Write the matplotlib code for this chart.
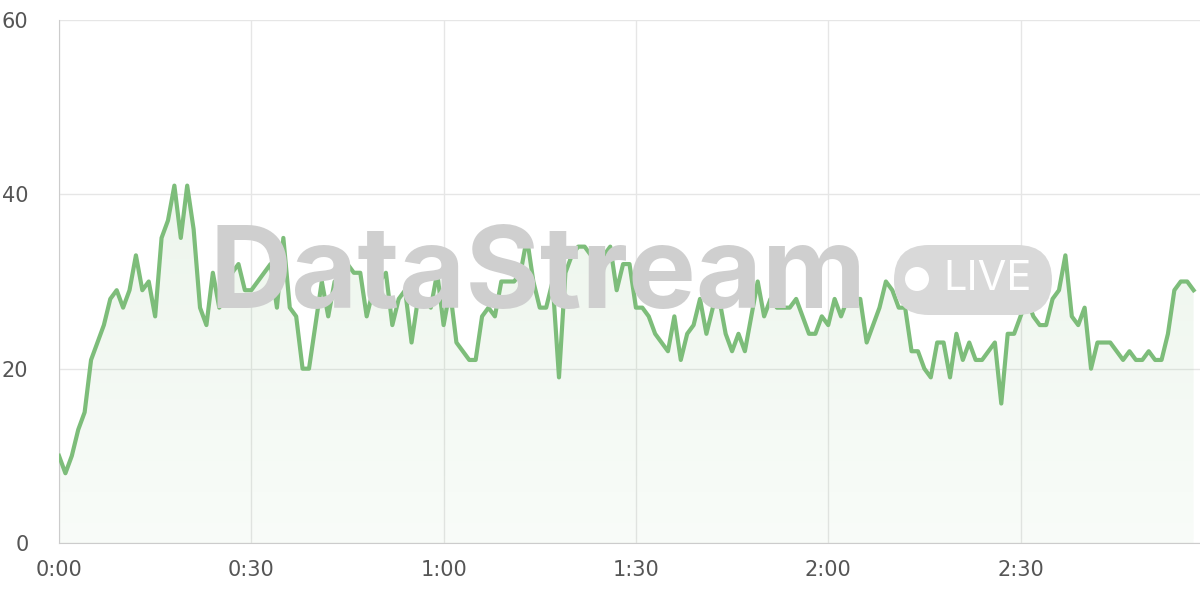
import numpy as np
import matplotlib.pyplot as plt
from matplotlib.patches import FancyBboxPatch, Circle
from matplotlib.ticker import FixedLocator

values = [10, 8, 10, 13, 15, 21, 23, 25, 28, 29, 27, 29, 33, 29, 30, 26, 35, 37, 41, 35,
          41, 36, 27, 25, 31, 27, 28, 31, 32, 29, 29, 30, 31, 32, 27, 35, 27, 26, 20, 20,
          25, 30, 26, 30, 29, 32, 31, 31, 26, 29, 30, 31, 25, 28, 29, 23, 28, 28, 27, 31,
          25, 29, 23, 22, 21, 21, 26, 27, 26, 30, 30, 30, 31, 35, 30, 27, 27, 30, 19, 31,
          33, 34, 34, 33, 32, 33, 34, 29, 32, 32, 27, 27, 26, 24, 23, 22, 26, 21, 24, 25,
          28, 24, 27, 28, 24, 22, 24, 22, 26, 30, 26, 28, 27, 27, 27, 28, 26, 24, 24, 26,
          25, 28, 26, 28, 28, 28, 23, 25, 27, 30, 29, 27, 27, 22, 22, 20, 19, 23, 23, 19,
          24, 21, 23, 21, 21, 22, 23, 16, 24, 24, 26, 28, 26, 25, 25, 28, 29, 33, 26, 25,
          27, 20, 23, 23, 23, 22, 21, 22, 21, 21, 22, 21, 21, 24, 29, 30, 30, 29]
tick_pos = [0, 30, 60, 90, 120, 150]
tick_labels = ["0:00", "0:30", "1:00", "1:30", "2:00", "2:30"]

x = np.arange(len(values))
line_color = "#7dbd7a"

fig = plt.figure(figsize=(12, 6), dpi=100)
ax = fig.add_axes([59 / 1200, 57 / 600, 1141 / 1200, 523 / 600])
ax.set_xlim(0, 178)
ax.set_ylim(0, 60)
ax.set_facecolor("none")

# watermark (pixel coordinates, origin bottom-left)
wm = fig.text(538 / 1200, 322 / 600, "DataStream", fontsize=82, fontweight="bold",
              color="#cfcfcf", va="center", ha="center", zorder=0, family="Inter")
badge = FancyBboxPatch((894, 285), 158, 70, boxstyle="round,pad=0,rounding_size=35",
                       transform=None, facecolor="#d9d9d9", edgecolor="none", zorder=0)
fig.patches.append(badge)
fig.patches.append(Circle((917, 321), 12, transform=None, facecolor="white",
                          edgecolor="none", zorder=0.5))
fig.text(988 / 1200, 321 / 600, "LIVE", fontsize=30, color="white", va="center",
         ha="center", zorder=1, family="Inter")

# gradient fill under line
poly = ax.fill_between(x, values, 0, color="none")
grad = np.linspace(0.05, 0.14, 256).reshape(-1, 1)
cmap_img = np.zeros((256, 1, 4))
cmap_img[..., 0] = 0.49
cmap_img[..., 1] = 0.74
cmap_img[..., 2] = 0.48
cmap_img[..., 3] = grad
img = ax.imshow(cmap_img, extent=[0, len(values) - 1, 0, max(values)], origin="lower",
                aspect="auto", zorder=1)
img.set_clip_path(poly.get_paths()[0], transform=ax.transData)
ax.plot(x, values, color=line_color, lw=3, zorder=3)

ax.xaxis.set_major_locator(FixedLocator(tick_pos))
ax.set_xticklabels(tick_labels)
ax.set_yticks([0, 20, 40, 60])
ax.grid(True, color="#e6e6e6", lw=1)
ax.set_axisbelow(True)
for s in ["top", "right"]:
    ax.spines[s].set_visible(False)
for s in ["left", "bottom"]:
    ax.spines[s].set_color("#cccccc")
ax.tick_params(colors="#555555", labelsize=15, length=0, pad=12)
ax.tick_params(axis="y", pad=22)

fig.savefig("out.png")
